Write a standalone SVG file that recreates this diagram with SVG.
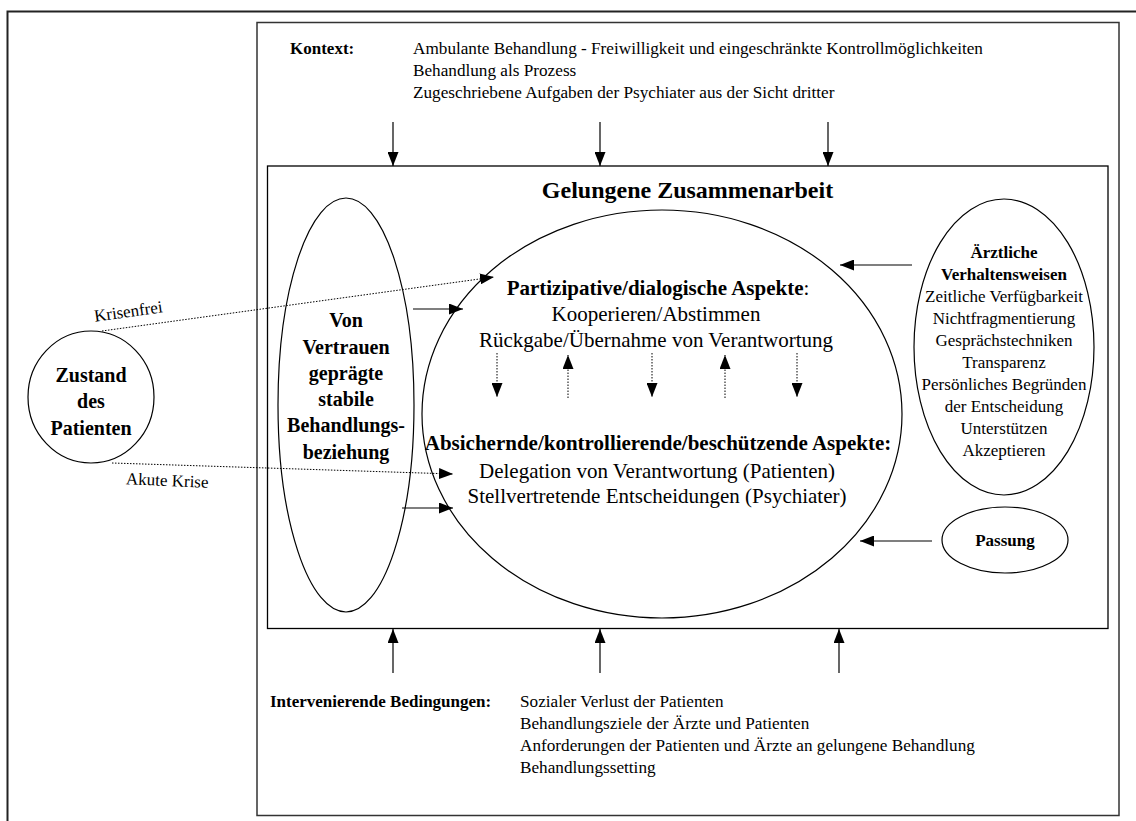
<svg xmlns="http://www.w3.org/2000/svg" width="1136" height="821" viewBox="0 0 1136 821">
<style>
.t{font-family:"Liberation Serif","Times New Roman","DejaVu Serif",serif;fill:#000}
.b{font-weight:bold}
.s17{font-size:17px}
.s18{font-size:17.2px}
.s20{font-size:20px}
.s21{font-size:21px}
.mid{text-anchor:middle}
.shape{fill:none;stroke:#000;stroke-width:1.2}
.solid{fill:none;stroke:#000;stroke-width:1.2}
.dot{fill:none;stroke:#000;stroke-width:1;stroke-dasharray:1.5 1.5}
</style>
<defs>
<marker id="ah" markerUnits="userSpaceOnUse" markerWidth="14" markerHeight="11" refX="14" refY="5.5" orient="auto">
<path d="M0,0 L14,5.5 L0,11 z" fill="#000"/>
</marker>
</defs>
<rect width="1136" height="821" fill="#fff"/>
<g id="frame">
<path d="M7.5,830 V11.5 H1140" fill="none" stroke="#222" stroke-width="2"/>
<rect x="257" y="22.5" width="862" height="793" fill="none" stroke="#333" stroke-width="1.5"/>
</g>
<g id="kontext">
<text class="t b s17" x="290" y="54">Kontext:</text>
<text class="t s18" x="413" y="54">Ambulante Behandlung - Freiwilligkeit und eingeschränkte Kontrollmöglichkeiten</text>
<text class="t s18" x="413" y="76">Behandlung als Prozess</text>
<text class="t s18" x="413" y="98">Zugeschriebene Aufgaben der Psychiater aus der Sicht dritter</text>
</g>
<g id="bedingungen">
<text class="t b s17" x="270" y="707">Intervenierende Bedingungen:</text>
<text class="t s18" x="520" y="707">Sozialer Verlust der Patienten</text>
<text class="t s18" x="520" y="729">Behandlungsziele der Ärzte und Patienten</text>
<text class="t s18" x="520" y="751">Anforderungen der Patienten und Ärzte an gelungene Behandlung</text>
<text class="t s18" x="520" y="773">Behandlungssetting</text>
</g>
<g id="zusammenarbeit">
<rect x="267.5" y="166" width="840.5" height="462.5" fill="none" stroke="#000" stroke-width="1.3"/>
<text class="t b mid" style="font-size:24px" x="687.5" y="198">Gelungene Zusammenarbeit</text>
</g>
<g id="zustand">
<ellipse class="shape" cx="91" cy="397" rx="63" ry="66"/>
<text class="t b s20 mid" x="91" y="382">Zustand</text>
<text class="t b s20 mid" x="91" y="408">des</text>
<text class="t b s20 mid" x="91" y="435">Patienten</text>
</g>
<g id="beziehung">
<ellipse class="shape" cx="346" cy="405" rx="68" ry="207"/>
<text class="t b s20 mid" x="346" y="327">Von</text>
<text class="t b s20 mid" x="346" y="354">Vertrauen</text>
<text class="t b s20 mid" x="346" y="380">geprägte</text>
<text class="t b s20 mid" x="346" y="406">stabile</text>
<text class="t b s20 mid" x="346" y="432">Behandlungs-</text>
<text class="t b s20 mid" x="346" y="459">beziehung</text>
</g>
<g id="aspekte">
<ellipse class="shape" cx="662" cy="414" rx="240" ry="204"/>
<text class="t s21 mid" x="658" y="295"><tspan class="b">Partizipative/dialogische Aspekte</tspan>:</text>
<text class="t s21 mid" x="656" y="321">Kooperieren/Abstimmen</text>
<text class="t s21 mid" x="656" y="347">Rückgabe/Übernahme von Verantwortung</text>
<text class="t b s21 mid" x="658" y="450">Absichernde/kontrollierende/beschützende Aspekte:</text>
<text class="t s21 mid" x="657" y="478">Delegation von Verantwortung (Patienten)</text>
<text class="t s21 mid" x="657" y="503">Stellvertretende Entscheidungen (Psychiater)</text>
</g>
<g id="verhalten">
<ellipse class="shape" cx="1004" cy="347" rx="90" ry="148"/>
<text class="t b s17 mid" x="1004" y="258">Ärztliche</text>
<text class="t b s17 mid" x="1004" y="280">Verhaltensweisen</text>
<text class="t s17 mid" x="1004" y="302">Zeitliche Verfügbarkeit</text>
<text class="t s17 mid" x="1004" y="324">Nichtfragmentierung</text>
<text class="t s17 mid" x="1004" y="346">Gesprächstechniken</text>
<text class="t s17 mid" x="1004" y="368">Transparenz</text>
<text class="t s17 mid" x="1004" y="390">Persönliches Begründen</text>
<text class="t s17 mid" x="1004" y="412">der Entscheidung</text>
<text class="t s17 mid" x="1004" y="434">Unterstützen</text>
<text class="t s17 mid" x="1004" y="456">Akzeptieren</text>
</g>
<g id="passung">
<ellipse class="shape" cx="1005" cy="540" rx="63" ry="33"/>
<text class="t b s17 mid" x="1005" y="546">Passung</text>
</g>
<g id="connectors">
<line class="solid" x1="393" y1="122" x2="393" y2="166" marker-end="url(#ah)"/>
<line class="solid" x1="600" y1="122" x2="600" y2="166" marker-end="url(#ah)"/>
<line class="solid" x1="828" y1="122" x2="828" y2="166" marker-end="url(#ah)"/>
<line class="solid" x1="393" y1="673" x2="393" y2="629" marker-end="url(#ah)"/>
<line class="solid" x1="600" y1="673" x2="600" y2="629" marker-end="url(#ah)"/>
<line class="solid" x1="839" y1="673" x2="839" y2="629" marker-end="url(#ah)"/>
<line class="solid" x1="413" y1="309" x2="463" y2="309" marker-end="url(#ah)"/>
<line class="solid" x1="402" y1="508" x2="453" y2="508" marker-end="url(#ah)"/>
<line class="solid" x1="912" y1="265" x2="840" y2="265" marker-end="url(#ah)"/>
<line class="solid" x1="932" y1="541" x2="860" y2="541" marker-end="url(#ah)"/>
<line class="dot" x1="102" y1="331" x2="494" y2="277" marker-end="url(#ah)"/>
<line class="dot" x1="112" y1="463" x2="453" y2="474" marker-end="url(#ah)"/>
<line class="dot" x1="497" y1="353" x2="497" y2="397" marker-end="url(#ah)"/>
<line class="dot" x1="652" y1="353" x2="652" y2="397" marker-end="url(#ah)"/>
<line class="dot" x1="797" y1="353" x2="797" y2="397" marker-end="url(#ah)"/>
<line class="dot" x1="568" y1="398" x2="568" y2="355" marker-end="url(#ah)"/>
<line class="dot" x1="725" y1="398" x2="725" y2="355" marker-end="url(#ah)"/>
</g>
<g id="labels">
<text class="t s17 mid" transform="translate(129,317) rotate(-8)">Krisenfrei</text>
<text class="t s17 mid" transform="translate(167,486) rotate(2.5)">Akute Krise</text>
</g>
</svg>
